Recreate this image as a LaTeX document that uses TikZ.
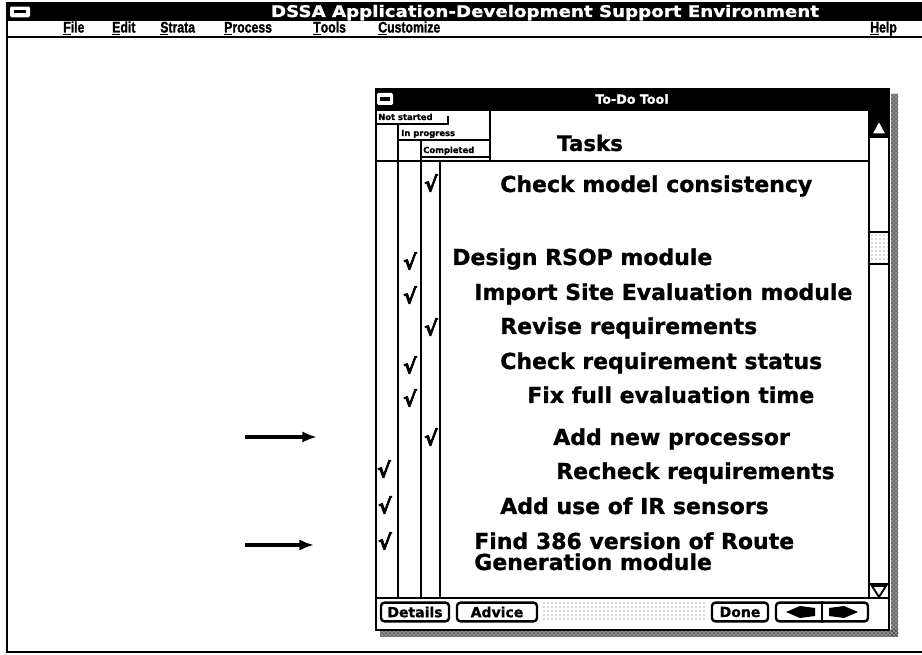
\documentclass[tikz,border=0pt]{standalone}
\usepackage{fontspec}
\setmainfont{DejaVu Sans}
\newfontfamily\menufont[FakeBold=1.5]{Liberation Sans}
\newfontfamily\heavyfont[FakeBold=1]{DejaVu Sans}
\newfontfamily\tickfont[FakeBold=3]{DejaVu Sans}
\usetikzlibrary{arrows.meta,patterns}

\tikzset{
  frame/.style={line width=2.2pt},
  thin/.style={line width=1.3pt},
  task/.style={anchor=base west, inner sep=0pt, font=\heavyfont\fontsize{16.5}{18}\selectfont\bfseries},
  tick/.style={inner sep=0pt, font=\tickfont\fontsize{15.5}{15.5}\selectfont\bfseries},
  hdr/.style={anchor=base west, inner sep=0pt, font=\heavyfont\fontsize{6.3}{6.3}\selectfont\bfseries},
  menu/.style={anchor=base west, inner sep=0pt, font=\menufont\fontsize{11.5}{12}\selectfont\bfseries},
  btn/.style={draw, line width=1.8pt, rounded corners=2.5pt, inner sep=0pt,
    font=\heavyfont\fontsize{10.5}{11}\selectfont\bfseries, minimum height=14pt},
  pointer/.style={line width=2.5pt, -{Latex[length=11pt,width=8.5pt]}},
  shadow/.style={pattern=crosshatch dots, pattern color=black},
  stipple/.style={pattern=dots, pattern color=black!60},
}

\begin{document}
\begin{tikzpicture}[x=0.75pt,y=-0.75pt]
\useasboundingbox (0,0) rectangle (922,655);
\fill[white] (0,0) rectangle (922,655);

% ---------- application window ----------
\fill[black] (7,2) rectangle (922,21);
\node[fill=white, rounded corners=1pt, minimum width=15pt, minimum height=8pt, inner sep=0pt] (sysbox) at (20,12) {};
\fill[black] (14,10.5) rectangle (26,13.5);
\node[text=white, anchor=base, inner sep=0pt, font=\heavyfont\fontsize{12}{12}\selectfont\bfseries] (apptitle) at (545,17)
  {\scalebox{1.14}[1]{DSSA Application-Development Support Environment}};
\node[menu] (mfile) at (63,32.5) {\scalebox{0.8}[1]{\underline{F}ile}};
\node[menu] (medit) at (112,32.5) {\scalebox{0.8}[1]{\underline{E}dit}};
\node[menu] (mstrata) at (160,32.5) {\scalebox{0.8}[1]{\underline{S}trata}};
\node[menu] (mprocess) at (224,32.5) {\scalebox{0.8}[1]{\underline{P}rocess}};
\node[menu] (mtools) at (313,32.5) {\scalebox{0.8}[1]{\underline{T}ools}};
\node[menu] (mcustom) at (378,32.5) {\scalebox{0.8}[1]{\underline{C}ustomize}};
\node[menu] (mhelp) at (870,32.5) {\scalebox{0.8}[1]{\underline{H}elp}};
\draw[frame] (7,37) -- (922,37);
\draw[frame] (7,2) -- (7,652) -- (922,652);

% ---------- To-Do Tool window ----------
% drop shadow
\fill[black!45] (891,94) rectangle (898,637);
\fill[black!45] (380,630) rectangle (898,637);
\fill[shadow] (891,94) rectangle (898,637);
\fill[shadow] (380,630) rectangle (898,637);
\fill[white] (376,88) rectangle (889,630);
% title bar
\fill[black] (375,88) rectangle (890,111);
\node[fill=white, rounded corners=1pt, minimum width=12pt, minimum height=9pt, inner sep=0pt] (todobox) at (385,99) {};
\fill[black] (380,97.5) rectangle (390,101);
\node[text=white, font=\heavyfont\fontsize{9.5}{10}\selectfont\bfseries, inner sep=0pt] (todotitle) at (632,99) {To-Do Tool};
\draw[frame] (376,88) -- (376,630) -- (889,630) -- (889,88);

% column header
\node[hdr] (hnot) at (378,120) {Not started};
\draw[thin] (376,124) -- (448,124) -- (448,116);
\node[hdr] (hprog) at (401,136) {In progress};
\draw[thin] (398,140) -- (490,140);
\node[hdr] (hdone) at (423,153) {Completed};
\draw[thin] (421,157) -- (490,157);
\draw[frame] (490,111) -- (490,161);
\draw[frame] (376,161) -- (869,161);
\node[font=\heavyfont\fontsize{16}{16}\selectfont\bfseries, inner sep=0pt] (tasks) at (590,143) {Tasks};

% status columns
\draw[frame] (398,124) -- (398,598);
\draw[frame] (421,140) -- (421,598);
\draw[frame] (440,161) -- (440,598);

% scroll bar
\draw[frame, fill=white] (869,111) rectangle (889,598);
\fill[black] (869,111) rectangle (889,137);
\filldraw[fill=white, draw=black, line width=0.8pt] (872,134) -- (886,134) -- (879,121) -- cycle;
\draw[thin] (869,137) -- (889,137);
\fill[stipple] (870,232) rectangle (888,264);
\draw[thin] (869,232) -- (889,232) (869,264) -- (889,264);
\draw[thin] (869,584) -- (889,584);
\filldraw[fill=white, draw=black, line width=1.4pt] (872,586) -- (886,586) -- (879,597) -- cycle;

% task list
\node[task] (t1) at (500,192) {Check model consistency};
\node[task] (t2) at (452,265) {Design RSOP module};
\node[task] (t3) at (474,300) {Import Site Evaluation module};
\node[task] (t4) at (500,334) {Revise requirements};
\node[task] (t5) at (500,369) {Check requirement status};
\node[task] (t6) at (527,403) {Fix full evaluation time};
\node[task] (t7) at (553,445) {Add new processor};
\node[task] (t8) at (556,479) {Recheck requirements};
\node[task] (t9) at (500,514) {Add use of IR sensors};
\node[task] (t10) at (474,549) {Find 386 version of Route};
\node[task] (t10b) at (474,570) {Generation module};

% status marks
\node[tick] (c1) at (431,183) {√};
\node[tick] (c2) at (410,261) {√};
\node[tick] (c3) at (410,295) {√};
\node[tick] (c4) at (431,327) {√};
\node[tick] (c5) at (410,365) {√};
\node[tick] (c6) at (410,398) {√};
\node[tick] (c7) at (431,437) {√};
\node[tick] (c8) at (384,469) {√};
\node[tick] (c9) at (385,505) {√};
\node[tick] (c10) at (385,541) {√};

% button bar
\draw[frame] (376,598) -- (889,598);
\node[btn, minimum width=51pt] (details) at (415,612) {Details};
\node[btn, minimum width=60pt] (advice) at (497,612) {Advice};
\fill[stipple] (542,603) rectangle (706,622);
\node[btn, minimum width=42pt] (done) at (740,612) {Done};
\node[btn, minimum width=69pt] (pager) at (822,612) {};
\draw[line width=1.8pt] (pager.north) -- (pager.south);
\fill[black] (786,612) -- (800,606) -- (815,608) -- (815,616) -- (800,618) -- cycle;
\fill[black] (858,612) -- (844,606) -- (829,608) -- (829,616) -- (844,618) -- cycle;

% pointers to the tasks discussed
\coordinate (p1s) at (245,437);
\coordinate (p1e) at (317,437);
\coordinate (p2s) at (245,545);
\coordinate (p2e) at (314,545);
\draw[pointer] (p1s) -- (p1e);
\draw[pointer] (p2s) -- (p2e);
\end{tikzpicture}
\end{document}
